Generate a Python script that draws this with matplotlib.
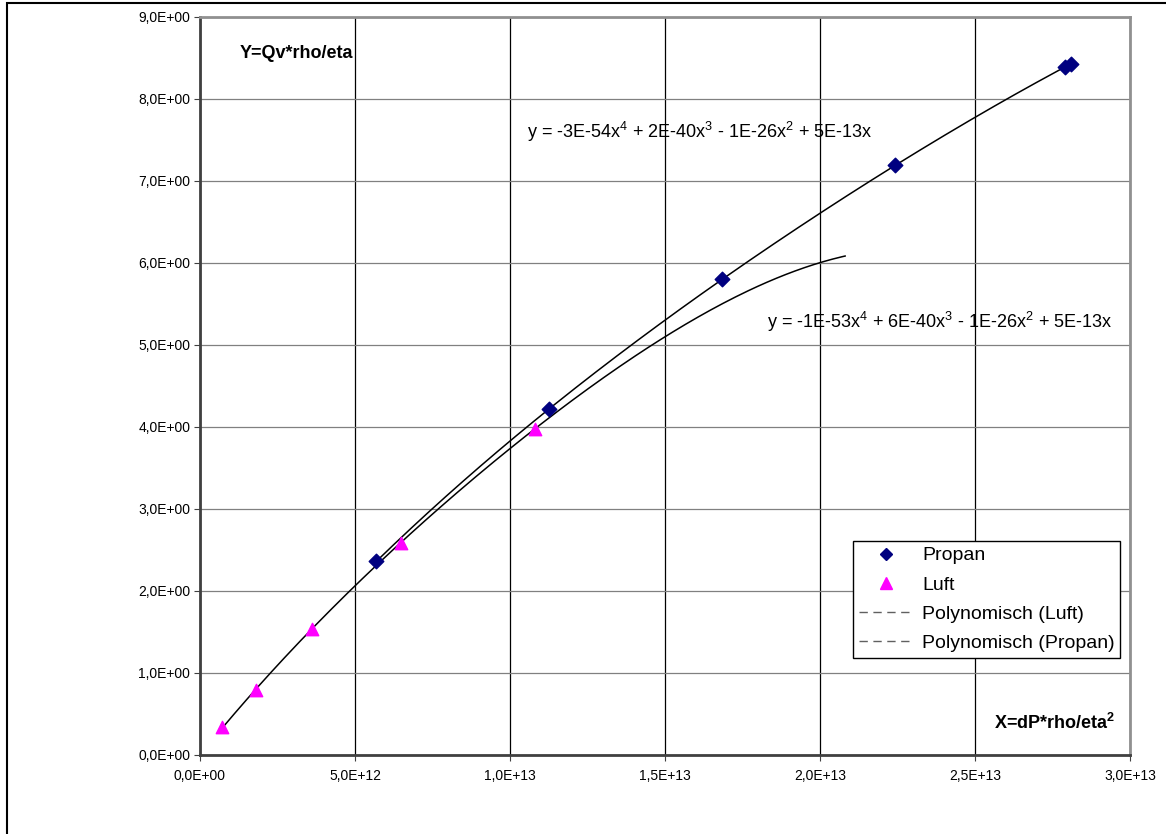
import numpy as np
import matplotlib.pyplot as plt
from matplotlib.ticker import FuncFormatter, MultipleLocator
from matplotlib.lines import Line2D
from matplotlib.patches import Rectangle

plt.rcParams['font.family'] = ['Liberation Sans', 'DejaVu Sans']
plt.rcParams['mathtext.fontset'] = 'custom'
plt.rcParams['mathtext.rm'] = 'Liberation Sans'
plt.rcParams['mathtext.it'] = 'Liberation Sans'
plt.rcParams['mathtext.bf'] = 'Liberation Sans:bold'

# data
propan_x = [5.68e12, 11.27e12, 16.83e12, 22.43e12, 27.9e12, 28.1e12]
propan_y = [2.36, 4.22, 5.80, 7.19, 8.39, 8.43]
luft_x = [0.70e12, 1.81e12, 3.60e12, 6.48e12, 10.81e12]
luft_y = [0.34, 0.79, 1.54, 2.59, 3.98]
luft_forward = 1.0e13

eq_propan = 'y = -3E-54x$^{4}$ + 2E-40x$^{3}$ - 1E-26x$^{2}$ + 5E-13x'
eq_luft = 'y = -1E-53x$^{4}$ + 6E-40x$^{3}$ - 1E-26x$^{2}$ + 5E-13x'


def polyfit0(x, y, deg=4):
    # polynomial trendline through the origin (x scaled to 1e12)
    xs = np.asarray(x) / 1e12
    A = np.column_stack([xs**k for k in range(1, deg + 1)])
    c, *_ = np.linalg.lstsq(A, np.asarray(y), rcond=None)
    return lambda t: sum(ci * (np.asarray(t) / 1e12)**(k + 1) for k, ci in enumerate(c))


fig = plt.figure(figsize=(11.66, 8.34), dpi=100)
ax = fig.add_axes([200/1166, 79/834, 930/1166, 738/834])

fp = polyfit0(propan_x, propan_y)
fl = polyfit0(luft_x, luft_y)
tp = np.linspace(min(propan_x), max(propan_x), 200)
tl = np.linspace(min(luft_x), max(luft_x) + luft_forward, 200)
ax.plot(tl, fl(tl), color='black', lw=1.1, zorder=3)
ax.plot(tp, fp(tp), color='black', lw=1.1, zorder=3)

ax.scatter(propan_x, propan_y, marker='D', s=55, color='#000080', zorder=4)
ax.scatter(luft_x, luft_y, marker='^', s=80, color='#FF00FF', zorder=4)

ax.set_xlim(0, 3e13)
ax.set_ylim(0, 9)
ax.xaxis.set_major_locator(MultipleLocator(5e12))
ax.yaxis.set_major_locator(MultipleLocator(1))


def sci_comma(v, pos):
    return ('%.1E' % v).replace('.', ',')


ax.xaxis.set_major_formatter(FuncFormatter(sci_comma))
ax.yaxis.set_major_formatter(FuncFormatter(sci_comma))
ax.tick_params(labelsize=10, length=4, color='#404040', pad=6)
ax.tick_params(axis='y', pad=3)

ax.grid(axis='x', color='black', lw=0.9)
ax.grid(axis='y', color='#808080', lw=0.9)
ax.set_axisbelow(True)
for side in ['left', 'bottom']:
    ax.spines[side].set_color('#404040')
    ax.spines[side].set_linewidth(2)
for side in ['right', 'top']:
    ax.spines[side].set_color('#909090')
    ax.spines[side].set_linewidth(2)

fig.text(240/1166, 1 - 53/834, 'Y=Qv*rho/eta',
         fontsize=13, fontweight='bold', va='center', ha='left')
fig.text(1115/1166, 1 - 723/834, r'X=dP*rho/eta$^{\mathbf{2}}$',
         fontsize=13, fontweight='bold', va='center', ha='right')
fig.text(527/1166, 1 - 132/834, eq_propan, fontsize=13, va='center', ha='left')
fig.text(767/1166, 1 - 322/834, eq_luft, fontsize=13, va='center', ha='left')

handles = [
    Line2D([], [], ls='none', marker='D', color='#000080', markersize=6.5),
    Line2D([], [], ls='none', marker='^', color='#FF00FF', markersize=9),
    Line2D([], [], ls=(0, (6, 4)), color='#606060', lw=1),
    Line2D([], [], ls=(0, (6, 4)), color='#606060', lw=1),
]
labels = ['Propan', 'Luft', 'Polynomisch (Luft)', 'Polynomisch (Propan)']
leg = ax.legend(handles, labels, loc='upper left',
                bbox_to_anchor=(653/930, 1 - (541 - 17)/738),
                fontsize=14, frameon=True, fancybox=False, framealpha=1,
                edgecolor='black', borderpad=0.3, labelspacing=0.6,
                handlelength=2.8, handletextpad=0.45, borderaxespad=0)
leg.get_frame().set_linewidth(1)

fig.patches.append(Rectangle((7/1166, -0.1), 1.2, 1 - 3/834 + 0.1,
                             transform=fig.transFigure, fill=False,
                             edgecolor='black', lw=1.5))

fig.savefig('out.png', dpi=100)
